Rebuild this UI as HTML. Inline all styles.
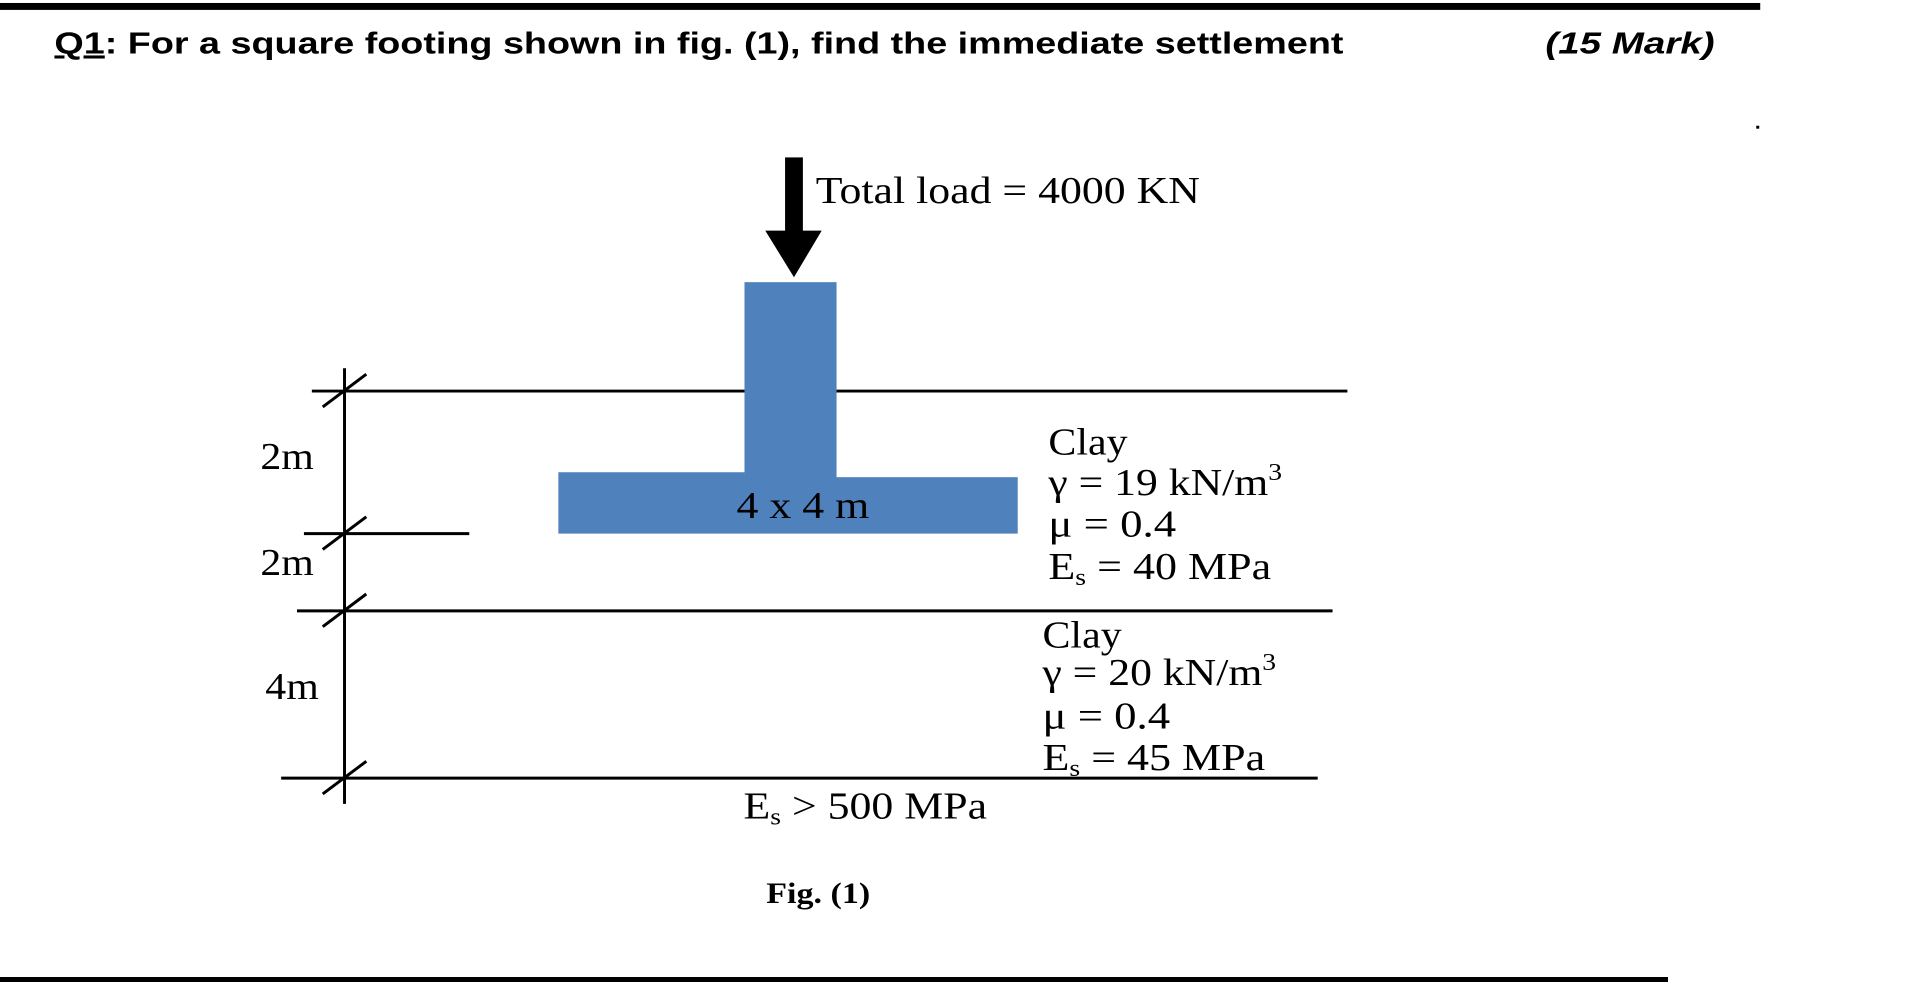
<!DOCTYPE html>
<html><head><meta charset="utf-8"><style>
html,body{margin:0;padding:0;background:#fff;width:1920px;height:983px;overflow:hidden}
svg{display:block}
.t{font-family:"Liberation Serif",serif;fill:#000}
</style></head><body>
<svg width="1920" height="983" viewBox="0 0 1920 983">
<g transform="scale(0.99)">
<rect x="0" y="3" width="1778" height="7" fill="#000"/>
<text x="55" y="54" font-family="Liberation Sans, sans-serif" font-weight="bold" font-size="31" textLength="1302" lengthAdjust="spacingAndGlyphs"><tspan text-decoration="underline">Q1</tspan>: For a square footing shown in fig. (1), find the immediate settlement</text>
<text x="1561" y="54" font-family="Liberation Sans, sans-serif" font-weight="bold" font-style="italic" font-size="31" textLength="171" lengthAdjust="spacingAndGlyphs">(15 Mark)</text>
<rect x="1774" y="127" width="3" height="3" fill="#000"/>
<g>
<rect x="793" y="159" width="18" height="78" fill="#000"/>
<polygon points="773,233 830,233 802,280" fill="#000"/>
</g>
<text class="t" x="824" y="205" font-size="38" textLength="388" lengthAdjust="spacingAndGlyphs">Total load = 4000 KN</text>
<g stroke="#000" stroke-width="3">
<line x1="315" y1="395" x2="1361" y2="395"/>
<line x1="307" y1="539" x2="474" y2="539"/>
<line x1="300" y1="617" x2="1346" y2="617"/>
<line x1="284" y1="786" x2="1331" y2="786"/>
<line x1="348" y1="372" x2="348" y2="812"/>
<line x1="326" y1="411" x2="370" y2="378"/>
<line x1="326" y1="555" x2="370" y2="522"/>
<line x1="326" y1="633" x2="370" y2="600"/>
<line x1="326" y1="802" x2="370" y2="769"/>
</g>
<g fill="#4f81bd">
<rect x="752" y="285" width="93" height="200"/>
<rect x="564" y="477" width="188" height="62"/>
<rect x="752" y="482" width="276" height="57"/>
</g>
<text class="t" x="744" y="523" font-size="38" textLength="134" lengthAdjust="spacingAndGlyphs">4 x 4 m</text>
<text class="t" x="263" y="474" font-size="38" textLength="54" lengthAdjust="spacingAndGlyphs">2m</text>
<text class="t" x="263" y="581" font-size="38" textLength="54" lengthAdjust="spacingAndGlyphs">2m</text>
<text class="t" x="268" y="706" font-size="38" textLength="54" lengthAdjust="spacingAndGlyphs">4m</text>
<g class="t" font-size="38">
<text x="1059" y="459" textLength="80" lengthAdjust="spacingAndGlyphs">Clay</text>
<text x="1059" y="500" textLength="236" lengthAdjust="spacingAndGlyphs">γ = 19 kN/m<tspan font-size="24" dy="-15">3</tspan></text>
<text x="1059" y="542" textLength="129" lengthAdjust="spacingAndGlyphs">μ = 0.4</text>
<text x="1059" y="585" textLength="225" lengthAdjust="spacingAndGlyphs">E<tspan font-size="24" dy="6">s</tspan><tspan dy="-6"> = 40 MPa</tspan></text>
</g>
<g class="t" font-size="38">
<text x="1053" y="654" textLength="80" lengthAdjust="spacingAndGlyphs">Clay</text>
<text x="1053" y="692" textLength="236" lengthAdjust="spacingAndGlyphs">γ = 20 kN/m<tspan font-size="24" dy="-15">3</tspan></text>
<text x="1053" y="736" textLength="129" lengthAdjust="spacingAndGlyphs">μ = 0.4</text>
<text x="1053" y="778" textLength="225" lengthAdjust="spacingAndGlyphs">E<tspan font-size="24" dy="6">s</tspan><tspan dy="-6"> = 45 MPa</tspan></text>
</g>
<text class="t" x="751" y="827" font-size="38" textLength="246" lengthAdjust="spacingAndGlyphs">E<tspan font-size="24" dy="6">s</tspan><tspan dy="-6"> &gt; 500 MPa</tspan></text>
<text class="t" x="774" y="912" font-size="30" font-weight="bold" textLength="105" lengthAdjust="spacingAndGlyphs">Fig. (1)</text>
</g>
<rect x="0" y="977" width="1668" height="5" fill="#000"/>
</svg>
</body></html>
